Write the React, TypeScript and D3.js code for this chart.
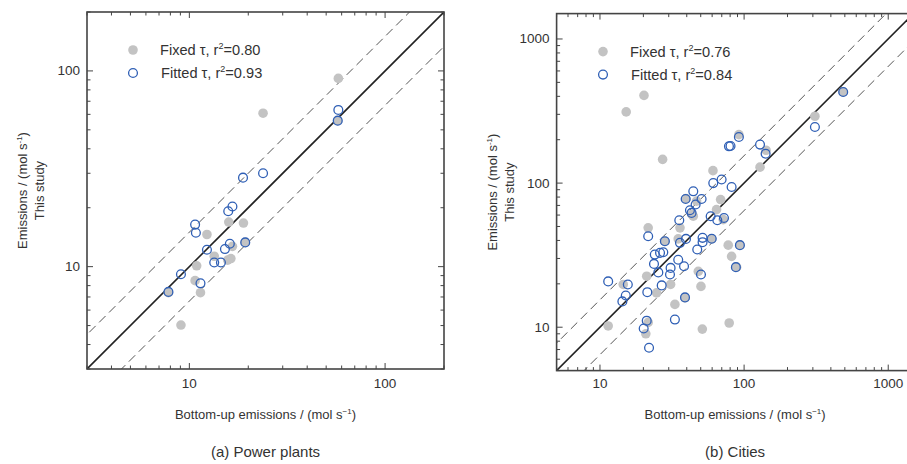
import React from "react";
import * as d3 from "d3";

// (a) power plants: [bottom-up, this study] in mol/s
const plantFixed = [
  [57.7, 91.6], [23.8, 60.8], [57.3, 55.7], [15.9, 16.9], [18.9, 16.7],
  [12.3, 14.6], [19.3, 13.3], [16.6, 12.7], [13.4, 11.3], [15.7, 10.8],
  [16.3, 11.0], [10.9, 10.1], [10.7, 8.48], [11.4, 7.36], [7.82, 7.36],
  [9.06, 5.03],
];
const plantFitted = [
  [57.7, 63.2], [57.3, 55.7], [23.8, 30.0], [18.8, 28.5], [16.6, 20.3],
  [15.8, 19.2], [10.7, 16.4], [10.8, 14.9], [12.3, 12.2], [16.1, 13.1],
  [15.2, 12.3], [19.3, 13.3], [13.4, 10.5], [14.5, 10.5], [9.06, 9.14],
  [11.4, 8.22], [7.82, 7.43],
];

// (b) cities
const cityFixed = [
  [20.2, 406], [15.2, 312], [27.2, 146], [310, 291], [487, 429], [92, 217],
  [142, 169], [129, 129], [60.8, 122], [68.7, 76.9], [64.4, 65.5], [39.5, 78],
  [46.8, 75], [43.3, 60.6], [44.4, 58.9], [21.6, 48.9], [35.9, 48.9],
  [28.2, 39.5], [34.9, 41], [59.6, 41.1], [77.6, 37.1], [81.9, 31],
  [93.5, 37.1], [88.7, 26.1], [71.6, 55.8], [21.1, 22.6], [14.5, 19.8],
  [24.7, 17.3], [30.9, 19.8], [48.1, 24.4], [50.2, 19.2], [33.1, 14.4],
  [38.9, 16], [11.4, 10.2], [20.8, 9], [21.6, 10.8], [51.3, 9.7], [78.8, 10.7],
];
const cityFitted = [
  [487, 429], [310, 245], [92, 209], [78.5, 180], [80.5, 181], [129, 185],
  [141, 160], [61.1, 100], [69.8, 106], [81.9, 94], [44.4, 87.7], [39.3, 77.6],
  [50.7, 77.6], [46.1, 71], [42.1, 64.8], [43.2, 62.1], [35.5, 55.2],
  [58.6, 58.9], [65.2, 55.2], [72.5, 57.3], [21.6, 42.8], [28.2, 39.5],
  [35.9, 38.5], [39.5, 41], [51.5, 41.7], [51.5, 38.9], [59.6, 41.1],
  [47.3, 34.6], [93.5, 37.1], [24, 31.9], [26.1, 32.8], [27.5, 33.1],
  [23.7, 27.5], [34.9, 29.4], [38.3, 26.5], [30.9, 25.8], [25.4, 24],
  [30.6, 23.2], [50.2, 23.2], [87.7, 26.1], [11.4, 20.8], [15.6, 19.8],
  [15.1, 16.6], [14.3, 15.1], [21.3, 17.5], [26.8, 19.5], [38.9, 16.1],
  [33.1, 11.3], [21.1, 11.1], [20.1, 9.8], [21.9, 7.2],
];

const plantDomain = [3, 200];
const cityDomain = [5, 1500];
const plantTicks = [10, 100];
const cityTicks = [10, 100, 1000];
const plantLegend = ["0.80", "0.93"];
const cityLegend = ["0.76", "0.84"];

const GREY = "#c3c3c3";
const BLUE = "#2f5fb5";
const TEXT = "#333";
const FONT = "Liberation Sans, Arial, sans-serif";

type Props = {
  id: string;
  x0: number;
  y0: number;
  size: number;
  domain: number[];
  labels: number[];
  fixed: number[][];
  fitted: number[][];
  r2: string[];
  band: number;
  legendX: number;
  caption: string;
};

function Panel(p: Props) {
  const x = d3.scaleLog().domain(p.domain).range([p.x0, p.x0 + p.size]);
  const y = d3.scaleLog().domain(p.domain).range([p.y0 + p.size, p.y0]);
  const ticks = x.ticks();
  const isMajor = (t: number) => Math.abs(Math.log10(t) - Math.round(Math.log10(t))) < 1e-6;
  const [lo, hi] = p.domain;
  const line = (k: number) => {
    const a = lo / 10, b = hi * 10;
    return `M${x(a)},${y(a * k)}L${x(b)},${y(b * k)}`;
  };
  const right = p.x0 + p.size;
  const bottom = p.y0 + p.size;
  const cx = p.x0 + p.size / 2;
  const cy = p.y0 + p.size / 2;
  return (
    <g>
      <defs>
        <clipPath id={p.id}>
          <rect x={p.x0} y={p.y0} width={p.size} height={p.size} />
        </clipPath>
      </defs>
      <g clipPath={`url(#${p.id})`}>
        <path d={line(1)} stroke="#222" strokeWidth={1.6} fill="none" />
        <path d={line(p.band)} stroke="#555" strokeWidth={1} strokeDasharray="9,5" fill="none" />
        <path d={line(1 / p.band)} stroke="#555" strokeWidth={1} strokeDasharray="9,5" fill="none" />
        {p.fixed.map((d, i) => (
          <circle key={"f" + i} cx={x(d[0])} cy={y(d[1])} r={4.8} fill={GREY} />
        ))}
        {p.fitted.map((d, i) => (
          <circle key={"o" + i} cx={x(d[0])} cy={y(d[1])} r={4.4} fill="none" stroke={BLUE} strokeWidth={1.3} />
        ))}
      </g>
      {ticks.map((t) => {
        const len = isMajor(t) ? 6 : 3.5;
        return (
          <g key={t} stroke="#444" strokeWidth={1}>
            <line x1={x(t)} x2={x(t)} y1={bottom} y2={bottom - len} />
            <line x1={x(t)} x2={x(t)} y1={p.y0} y2={p.y0 + len} />
            <line x1={p.x0} x2={p.x0 + len} y1={y(t)} y2={y(t)} />
            <line x1={right} x2={right - len} y1={y(t)} y2={y(t)} />
          </g>
        );
      })}
      <rect x={p.x0} y={p.y0} width={p.size} height={p.size} fill="none" stroke="#444" strokeWidth={1.6} />
      <g fontFamily={FONT} fontSize={13.5} fill={TEXT}>
        {p.labels.map((t) => (
          <text key={"x" + t} x={x(t)} y={388} textAnchor="middle">{t}</text>
        ))}
        {p.labels.map((t) => (
          <text key={"y" + t} x={p.x0 - 7} y={y(t) + 4.5} textAnchor="end">{t}</text>
        ))}
        <text x={cx} y={419} textAnchor="middle" fontSize={13}>
          Bottom-up emissions / (mol s
          <tspan fontSize={8} dy={-5}>−1</tspan>
          <tspan dy={5}>)</tspan>
        </text>
        <text transform={`translate(${p.x0 - 60},${cy}) rotate(-90)`} textAnchor="middle" fontSize={13}>
          Emissions / (mol s
          <tspan fontSize={8} dy={-5}>-1</tspan>
          <tspan dy={5}>)</tspan>
        </text>
        <text transform={`translate(${p.x0 - 43},${cy}) rotate(-90)`} textAnchor="middle" fontSize={13}>This study</text>
        <text x={cx} y={457} textAnchor="middle" fontSize={15}>{p.caption}</text>
      </g>
      <g fontFamily={FONT} fontSize={14.6} fill={TEXT}>
        <circle cx={p.legendX} cy={p.y0 + 38} r={4.8} fill={GREY} />
        <circle cx={p.legendX} cy={p.y0 + 61} r={4.4} fill="none" stroke={BLUE} strokeWidth={1.3} />
        <text x={p.legendX + 27} y={p.y0 + 43}>
          Fixed τ, r<tspan fontSize={9} dy={-6}>2</tspan>
          <tspan dy={6}>={p.r2[0]}</tspan>
        </text>
        <text x={p.legendX + 28} y={p.y0 + 66}>
          Fitted τ, r<tspan fontSize={9} dy={-6}>2</tspan>
          <tspan dy={6}>={p.r2[1]}</tspan>
        </text>
      </g>
    </g>
  );
}

export default function App() {
  return (
    <svg
      width={907}
      height={464}
      style={{ position: "absolute", left: 0, top: 0, background: "#fff" }}
    >
      <Panel
        id="clipA"
        x0={87}
        y0={12}
        size={357}
        domain={plantDomain}
        labels={plantTicks}
        fixed={plantFixed}
        fitted={plantFitted}
        r2={plantLegend}
        band={1.5}
        legendX={133}
        caption="(a) Power plants"
      />
      <Panel
        id="clipB"
        x0={556.6}
        y0={13.6}
        size={357}
        domain={cityDomain}
        labels={cityTicks}
        fixed={cityFixed}
        fitted={cityFitted}
        r2={cityLegend}
        band={1.55}
        legendX={603}
        caption="(b) Cities"
      />
    </svg>
  );
}
